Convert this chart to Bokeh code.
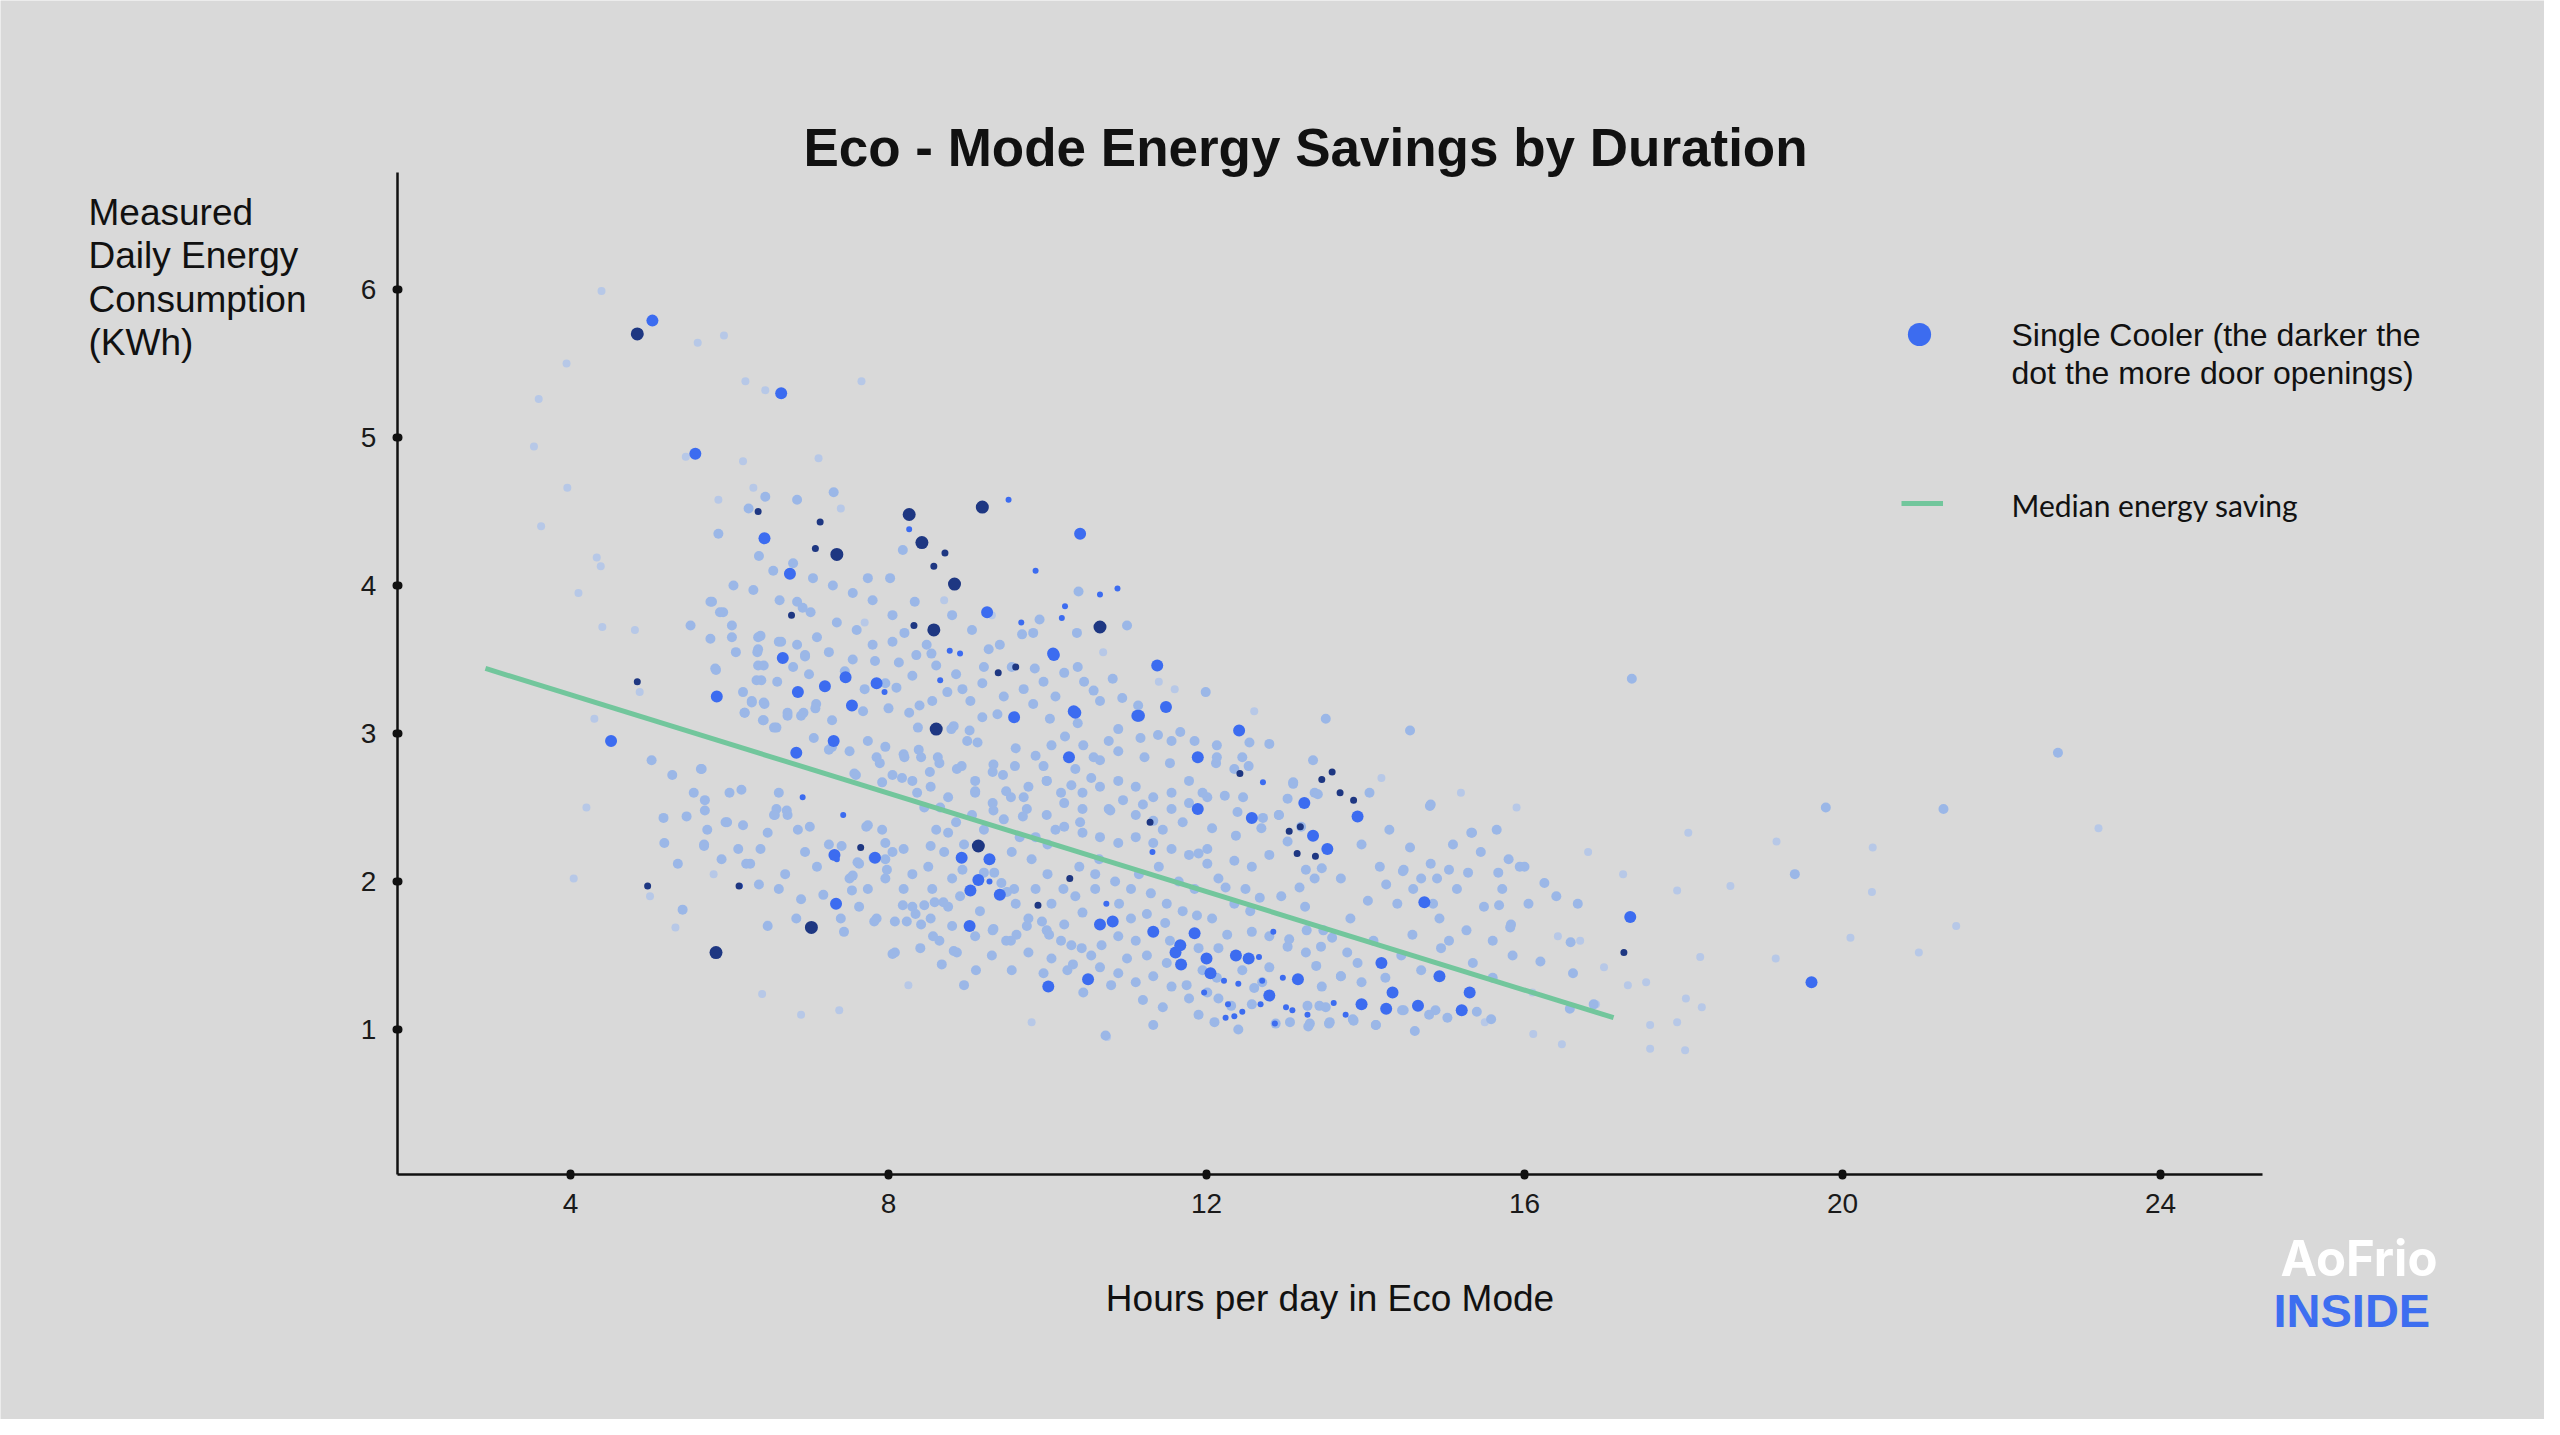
from bokeh.plotting import figure
from bokeh.models import Range1d, FixedTicker, Label, Legend, LegendItem
from bokeh.embed import file_html
from bokeh.resources import INLINE

BG = "#d9d9d9"
FONT = "Liberation Sans"

x_ticks = [4, 8, 12, 16, 20, 24]
y_ticks = [1, 2, 3, 4, 5, 6]
x_axis_span = (1.82, 25.28)
y_axis_span = (0.02, 6.79)

# median energy saving line (hours, kWh)
median_x = [2.93, 17.12]
median_y = [3.44, 1.08]

# coolers with many door openings (darkest)
dark_big = [(4.84, 5.70), (8.26, 4.48), (9.18, 4.53), (7.35, 4.21), (8.42, 4.29), (8.83, 4.01),
            (8.57, 3.70), (10.66, 3.72), (8.60, 3.03), (9.13, 2.24), (7.03, 1.69), (5.83, 1.52)]
dark_small = [(4.84, 3.35), (4.97, 1.97), (6.36, 4.50), (7.14, 4.43), (7.08, 4.25), (8.71, 4.22),
              (8.57, 4.13), (6.78, 3.80), (8.32, 3.73), (9.38, 3.41), (9.88, 1.84), (12.42, 2.73),
              (13.45, 2.69), (13.58, 2.74), (13.68, 2.60), (13.85, 2.55), (13.04, 2.34), (13.18, 2.37),
              (13.14, 2.19), (13.37, 2.17), (6.12, 1.97), (7.65, 2.23), (10.28, 2.02), (11.29, 2.40),
              (17.25, 1.52), (9.60, 3.45)]

# coolers with a moderate number of door openings
bright_big = [(5.03, 5.79), (6.65, 5.30), (5.57, 4.89), (10.41, 4.35), (6.44, 4.32), (6.76, 4.08),
              (9.24, 3.82), (11.38, 3.46), (6.67, 3.51), (7.46, 3.38), (7.20, 3.32), (6.86, 3.28),
              (5.84, 3.25), (7.54, 3.19), (7.85, 3.34), (10.08, 3.53), (9.58, 3.11), (10.33, 3.15),
              (11.13, 3.12), (11.49, 3.18), (10.27, 2.84), (11.89, 2.84), (12.41, 3.02), (6.84, 2.87),
              (7.31, 2.95), (12.57, 2.43), (13.23, 2.53), (13.34, 2.31), (13.52, 2.22), (13.90, 2.44),
              (11.89, 2.49), (7.32, 2.18), (7.34, 1.85), (7.83, 2.16), (8.92, 2.16), (9.27, 2.15),
              (9.13, 2.01), (9.03, 1.94), (9.40, 1.91), (9.02, 1.70), (10.66, 1.71), (10.82, 1.73),
              (11.33, 1.66), (11.85, 1.65), (11.61, 1.52), (11.68, 1.44), (12.00, 1.48), (12.37, 1.50),
              (12.53, 1.48), (13.15, 1.34), (12.79, 1.23), (10.51, 1.34), (10.01, 1.29), (13.95, 1.17),
              (14.26, 1.14), (14.66, 1.16), (15.21, 1.13), (15.31, 1.25), (14.93, 1.36), (14.34, 1.25),
              (14.20, 1.45), (14.74, 1.86), (17.33, 1.76), (19.61, 1.32), (4.51, 2.95), (12.05, 1.38),
              (11.67, 1.57), (10.35, 3.14), (11.15, 3.12), (10.07, 3.54)]
bright_small = [(9.51, 4.58), (8.26, 4.38), (9.85, 4.10), (9.67, 3.75), (10.18, 3.78), (10.22, 3.86),
                (10.66, 3.94), (10.88, 3.98), (8.77, 3.56), (8.90, 3.54), (7.95, 3.28), (8.65, 3.36),
                (12.35, 1.09), (12.27, 1.17), (12.70, 1.33), (13.00, 1.15), (10.74, 1.85), (9.27, 2.00),
                (12.71, 2.67), (12.84, 1.66), (12.24, 1.08), (12.45, 1.12), (12.68, 1.17), (12.86, 1.04),
                (13.08, 1.13), (13.27, 1.10), (11.97, 1.25), (12.22, 1.33), (12.40, 1.31), (12.96, 1.35),
                (12.66, 1.49), (6.13, 1.97), (6.92, 2.57), (7.43, 2.45), (7.35, 2.15), (11.32, 2.20),
                (13.60, 1.18), (13.75, 1.10)]

# coolers with few door openings (light)
light = [(5.02, 2.82), (5.28, 2.72), (5.65, 2.76), (5.17, 2.43), (5.46, 2.44), (5.18, 2.26), (5.35, 2.12),
         (5.68, 2.25), (5.97, 2.40), (5.41, 1.81), (6.26, 2.12), (6.39, 2.22), (5.72, 2.35), (6.85, 4.58),
         (7.31, 4.63), (6.45, 4.60), (6.24, 4.52), (5.86, 4.35), (6.37, 4.20), (7.74, 4.05), (8.02, 4.05),
         (8.18, 4.24), (6.05, 4.00), (6.30, 3.97), (5.78, 3.89), (5.92, 3.82), (6.63, 3.90), (6.85, 3.89),
         (7.02, 3.82), (6.92, 3.85), (8.33, 3.89), (9.90, 3.77), (9.68, 3.67), (9.82, 3.68), (10.37, 3.68),
         (11.00, 3.73), (10.39, 3.96), (6.39, 3.66), (6.65, 3.62), (6.36, 3.57), (6.95, 3.52), (6.36, 3.46),
         (6.08, 3.55), (6.40, 3.36), (5.82, 3.44), (5.51, 3.73), (5.76, 3.64), (6.03, 3.65),
         (6.28, 3.22), (6.44, 3.20), (6.19, 3.14), (6.42, 3.09), (6.59, 3.04), (6.73, 3.14), (6.93, 3.14),
         (7.09, 3.20), (7.29, 3.09), (7.68, 3.15), (7.96, 3.34), (8.10, 3.31), (7.83, 3.49), (8.13, 3.48),
         (8.35, 3.53), (8.48, 3.60), (8.54, 3.54), (8.60, 3.46), (8.30, 3.39), (9.26, 3.57), (9.18, 3.34),
         (8.93, 3.30), (8.74, 3.28), (9.03, 3.22), (8.55, 3.22), (8.39, 3.19), (8.26, 3.14), (8.00, 3.17),
         (8.37, 3.04), (8.82, 3.05), (8.99, 2.95), (9.18, 3.11), (9.37, 3.13), (9.82, 3.20), (9.84, 3.44),
         (10.21, 3.41), (10.38, 3.45), (10.46, 3.35), (10.38, 3.07), (10.03, 3.10), (10.22, 2.98),
         (10.58, 3.29), (10.66, 3.22), (10.82, 3.37), (10.94, 3.24), (11.14, 3.19), (10.89, 3.03),
         (10.77, 2.95), (10.89, 2.88), (11.17, 2.97), (11.39, 2.99), (11.56, 2.95), (11.67, 3.01),
         (11.99, 3.28), (10.58, 2.84), (10.35, 2.76), (10.66, 2.82), (11.22, 2.84), (11.54, 2.80),
         (12.13, 2.92), (12.54, 2.94), (12.79, 2.93), (12.12, 2.80), (12.35, 2.76), (11.78, 2.68),
         (11.56, 2.60), (11.33, 2.57), (11.11, 2.64), (10.89, 2.68), (10.66, 2.64), (10.44, 2.60),
         (9.99, 2.68), (9.76, 2.64), (9.59, 2.78), (9.31, 2.74), (9.09, 2.68), (8.86, 2.76), (8.64, 2.80),
         (8.41, 2.84), (8.19, 2.86), (7.96, 2.91), (7.74, 2.95), (7.51, 2.88), (7.29, 2.91), (7.06, 2.97),
         (7.85, 2.84), (7.57, 2.73), (8.05, 2.72), (8.30, 2.68), (8.53, 2.64), (8.75, 2.57), (9.09, 2.60),
         (9.31, 2.53), (9.54, 2.57), (9.74, 2.49), (9.99, 2.45), (10.21, 2.53), (10.44, 2.49), (10.77, 2.49),
         (11.11, 2.45), (11.33, 2.41), (11.56, 2.49), (11.78, 2.53), (12.01, 2.57), (12.23, 2.58),
         (12.46, 2.57), (13.09, 2.66), (13.36, 2.60), (13.19, 2.37), (13.02, 2.27), (12.91, 2.45),
         (12.79, 2.18), (12.57, 2.10), (12.35, 2.14), (12.01, 2.22), (11.78, 2.18), (11.56, 2.22),
         (11.33, 2.26), (11.11, 2.30), (10.89, 2.26), (10.66, 2.30), (10.44, 2.33), (10.21, 2.37),
         (14.81, 2.51), (15.34, 2.33), (15.65, 2.35), (14.56, 3.02), (13.50, 3.10), (17.35, 3.37),
         (6.59, 2.49), (6.73, 2.45), (7.01, 2.37), (7.72, 2.37), (7.63, 2.12), (7.96, 2.26), (8.19, 2.22),
         (7.51, 2.02), (7.74, 1.95), (7.96, 2.02), (8.19, 1.95), (8.30, 1.83), (8.53, 1.75), (8.75, 1.83),
         (9.58, 1.95), (9.76, 1.75), (9.99, 1.67), (10.21, 1.71), (10.44, 1.79), (10.89, 1.63), (11.11, 1.60),
         (11.54, 1.60), (12.79, 1.63), (13.02, 1.56), (12.57, 1.17), (12.01, 1.25), (11.78, 1.21),
         (11.56, 1.29), (11.33, 1.36), (11.11, 1.32), (10.89, 1.38), (10.66, 1.42), (10.32, 1.44),
         (9.76, 1.52), (9.54, 1.60), (9.31, 1.67), (9.09, 1.63), (8.86, 1.52), (8.64, 1.60), (8.41, 1.71),
         (8.08, 1.52), (7.85, 1.75), (7.63, 1.83), (7.40, 1.75), (7.18, 1.91), (6.90, 1.88), (6.84, 1.75),
         (6.62, 1.95), (10.73, 0.96), (11.33, 1.03), (12.87, 1.04), (13.05, 1.05), (13.30, 1.04),
         (13.55, 1.05), (13.85, 1.06), (14.13, 1.03), (13.42, 1.16), (13.69, 1.36), (14.48, 1.13),
         (14.88, 1.13), (14.59, 1.64), (14.93, 1.75), (15.27, 1.67), (15.60, 1.60), (15.83, 1.71),
         (15.49, 1.83), (15.72, 1.95), (15.15, 1.95), (14.70, 2.02), (14.26, 1.98), (14.03, 1.87),
         (13.81, 1.75), (13.47, 1.67), (13.24, 1.83), (13.69, 2.02), (14.18, 2.10), (14.48, 2.08),
         (14.90, 2.02), (15.29, 2.06), (15.67, 2.06), (15.94, 2.10), (16.25, 1.99), (16.67, 1.85),
         (16.20, 1.46), (16.61, 1.38), (16.58, 1.59), (16.87, 1.17), (16.57, 1.14), (15.82, 1.69),
         (15.68, 1.84), (14.46, 1.13), (14.62, 0.99), (14.80, 1.10), (15.03, 1.08), (15.40, 1.12),
         (15.58, 1.07), (19.40, 2.05), (19.79, 2.50), (21.27, 2.49), (22.71, 2.87),
         (12.13, 2.84), (12.45, 2.84), (12.53, 2.78), (13.09, 2.67), (13.34, 2.82), (13.40, 2.59),
         (12.91, 2.45), (12.71, 2.43), (13.02, 2.56), (12.39, 2.47), (12.07, 2.36), (12.37, 2.31),
         (12.69, 2.36), (13.25, 2.08), (13.45, 2.09), (13.36, 2.02), (13.17, 1.96), (12.94, 1.90),
         (12.67, 1.89), (12.49, 1.95), (12.24, 1.96), (12.01, 2.12), (11.90, 2.19), (14.47, 2.07),
         (14.56, 2.23), (14.82, 2.52), (14.82, 2.12), (15.05, 2.08), (15.33, 2.33), (15.80, 2.15),
         (16.00, 2.10), (12.57, 1.66), (13.04, 1.61), (13.25, 1.52), (13.38, 1.43), (13.45, 1.29),
         (13.27, 1.16), (13.50, 1.15), (13.54, 1.04), (13.28, 1.02), (13.84, 1.07), (14.13, 1.03),
         (13.95, 1.32), (13.69, 1.36), (13.77, 1.52), (13.44, 1.56), (13.58, 1.62), (13.26, 1.67),
         (12.70, 1.32), (12.15, 1.21), (12.31, 1.16), (12.13, 1.35), (11.90, 1.55), (11.88, 1.77),
         (12.07, 1.75), (12.26, 1.64), (12.79, 1.42),
         (5.76, 3.89), (5.88, 3.82), (6.03, 3.73), (6.36, 3.65), (6.62, 3.62), (6.85, 3.60), (6.35, 3.55),
         (6.95, 3.53), (5.83, 3.43), (6.43, 3.46), (6.34, 3.36), (6.17, 3.28), (6.28, 3.21), (6.43, 3.21),
         (6.19, 3.14), (6.43, 3.09), (6.56, 3.04), (6.73, 3.12), (6.90, 3.12), (7.08, 3.17), (7.25, 2.89),
         (7.59, 2.72), (7.89, 2.80), (7.92, 2.67), (8.17, 2.70), (8.20, 2.84), (8.38, 2.89), (8.36, 2.60),
         (8.52, 2.74), (8.62, 2.84), (8.79, 3.03), (9.02, 3.02), (9.12, 2.94), (8.92, 2.78), (9.32, 2.79),
         (9.44, 2.72), (9.32, 2.48), (9.09, 2.61), (9.48, 2.61), (9.70, 2.57), (9.69, 2.44), (9.99, 2.68),
         (10.17, 2.60), (10.41, 2.40), (10.79, 2.48), (5.64, 2.76), (6.15, 2.62), (6.62, 2.60), (5.69, 2.55),
         (5.69, 2.48), (5.95, 2.40), (6.17, 2.38), (6.48, 2.33), (6.72, 2.48), (6.57, 2.45), (6.86, 2.35),
         (5.68, 2.24), (6.11, 2.22), (6.21, 2.12), (6.37, 1.98), (6.48, 1.70), (7.44, 1.66), (7.74, 2.38),
         (7.92, 2.35), (7.81, 2.16), (7.96, 2.15), (7.98, 2.08), (8.05, 2.20), (7.61, 2.13), (7.55, 2.04),
         (7.54, 1.94), (7.82, 1.73), (8.08, 1.73), (8.05, 1.51), (8.40, 1.55), (8.67, 1.44), (8.82, 1.53),
         (8.56, 1.63), (8.80, 1.70), (8.18, 1.84), (8.34, 1.78), (8.23, 1.73), (8.45, 1.84), (8.58, 1.86),
         (8.69, 1.86), (8.80, 2.02), (8.93, 2.08), (9.20, 2.06), (9.33, 2.06), (9.42, 1.99), (9.49, 1.93),
         (9.32, 1.68), (9.48, 1.60), (9.61, 1.64), (9.74, 1.70), (9.93, 1.73), (10.02, 1.64), (10.17, 1.60),
         (10.30, 1.57), (10.43, 1.55), (10.55, 1.50), (10.68, 1.57), (10.40, 2.10), (10.60, 2.05),
         (10.85, 2.00), (11.05, 1.95), (11.30, 1.92), (11.50, 1.85), (11.70, 1.80), (11.05, 1.75),
         (11.25, 1.78), (11.48, 1.72), (10.20, 1.95), (10.00, 2.05), (9.80, 2.15), (9.65, 2.30),
         (10.00, 2.25), (10.65, 2.15),
         (6.55, 4.10), (6.80, 4.15), (7.05, 4.05), (7.30, 4.00), (7.55, 3.95), (7.80, 3.90), (8.05, 3.80),
         (7.60, 3.70), (7.35, 3.75), (7.10, 3.65), (7.25, 3.55), (7.55, 3.50), (7.80, 3.60), (8.05, 3.62),
         (8.20, 3.68), (7.45, 3.42), (7.70, 3.30), (6.60, 3.35), (6.80, 3.45), (7.00, 3.40), (8.80, 3.80),
         (9.05, 3.70), (9.40, 3.60), (9.55, 3.45), (9.70, 3.30), (9.95, 3.35), (10.10, 3.25), (9.45, 3.25),
         (9.20, 3.45), (8.85, 3.40), (9.60, 2.90), (9.85, 2.85), (10.05, 2.92), (9.95, 2.78), (10.45, 2.92),
         (11.85, 2.95), (11.95, 2.60), (11.70, 2.40), (11.45, 2.35), (11.20, 2.52), (10.95, 2.55),
         (10.55, 2.70), (10.30, 2.65), (10.10, 2.35), (9.85, 2.30), (9.55, 2.20), (9.45, 2.42), (9.20, 2.35),
         (9.05, 2.45), (8.85, 2.40), (8.60, 2.35), (8.45, 2.50), (8.65, 2.50), (8.95, 2.25), (8.70, 2.20),
         (8.50, 2.10), (8.30, 2.05), (8.55, 1.95), (8.90, 1.90), (9.15, 1.80), (9.60, 1.85), (9.85, 1.95),
         (10.05, 1.85), (10.35, 1.90), (10.60, 1.95), (10.90, 1.85), (11.15, 2.05), (11.40, 2.10),
         (11.65, 2.00), (11.85, 1.95), (12.15, 2.02), (12.35, 1.85), (12.55, 1.80), (12.15, 1.55),
         (12.45, 1.40), (12.60, 1.28), (11.95, 1.40), (11.75, 1.30), (11.50, 1.45), (11.25, 1.50),
         (11.00, 1.48), (10.80, 1.30), (10.45, 1.25), (10.25, 1.40), (10.05, 1.48), (9.95, 1.38),
         (9.55, 1.40), (9.30, 1.50), (9.10, 1.40), (8.95, 1.30), (11.20, 1.20), (11.45, 1.15), (11.90, 1.10),
         (12.10, 1.05), (12.40, 1.00), (14.40, 1.85), (14.60, 1.95), (14.85, 1.85), (15.05, 1.60),
         (15.35, 1.45), (15.60, 1.35), (15.85, 1.50), (14.95, 1.55), (14.70, 1.40), (14.45, 1.50),
         (14.10, 1.60), (13.90, 1.45), (14.25, 1.35), (15.10, 2.25), (15.45, 2.20), (16.05, 1.85),
         (16.40, 1.90), (13.95, 2.25), (14.30, 2.35), (14.05, 2.60),
         (6.56, 2.45), (7.41, 2.24), (8.75, 2.33), (8.53, 2.24), (6.00, 2.60), (5.55, 2.60), (5.90, 2.15),
         (6.70, 2.05), (7.10, 2.10), (7.25, 2.25), (6.95, 2.20)]

# faint coolers (fewest door openings)
pale = [(4.39, 5.99), (5.60, 5.64), (5.93, 5.69), (3.95, 5.50), (3.60, 5.26), (6.20, 5.38), (6.45, 5.32),
        (7.66, 5.38), (3.54, 4.94), (5.45, 4.87), (6.17, 4.84), (7.12, 4.86), (3.96, 4.66), (3.63, 4.40),
        (4.33, 4.19), (4.38, 4.13), (4.10, 3.95), (4.40, 3.72), (4.81, 3.70), (4.87, 3.28), (4.04, 2.02),
        (6.41, 1.24), (7.38, 1.13), (6.48, 1.71), (5.32, 1.69), (16.42, 1.63), (16.90, 1.17), (17.30, 1.30),
        (17.53, 1.32), (17.58, 1.03), (17.92, 1.05), (18.03, 1.21), (18.23, 1.15), (17.58, 0.87),
        (18.02, 0.86), (16.11, 0.97), (16.47, 0.90), (18.21, 1.49), (17.92, 1.94), (18.06, 2.33),
        (18.59, 1.97), (19.17, 2.27), (19.16, 1.48), (20.10, 1.62), (20.38, 2.23), (23.22, 2.36),
        (20.37, 1.93), (20.96, 1.52), (21.43, 1.70), (17.24, 2.05), (5.86, 4.58), (6.30, 4.66),
        (7.40, 4.52), (4.30, 3.10), (4.20, 2.50), (5.00, 1.90), (5.80, 2.05), (6.90, 1.10), (15.50, 1.05),
        (16.10, 1.25), (16.70, 1.60), (17.00, 1.42), (15.90, 2.50), (16.80, 2.20), (10.75, 0.95),
        (8.25, 1.30), (9.80, 1.05), (11.60, 3.30), (12.60, 3.15), (14.20, 2.70), (15.20, 2.60),
        (9.30, 3.80), (7.70, 3.75), (8.70, 3.90), (10.70, 3.55), (11.40, 3.35)]


def split(pts):
    return [a for a, _ in pts], [b for _, b in pts]


# the frame fills the whole canvas; axes are pinned with fixed_location
p = figure(width=2544, height=1419, x_range=Range1d(-3.17, 28.83), y_range=Range1d(-1.635, 7.953),
           output_backend="svg", toolbar_location=None, min_border=0,
           background_fill_color=BG, border_fill_color=BG, outline_line_color=None)
p.grid.visible = False

for ax in (p.xaxis, p.yaxis):
    ax.axis_line_width = 2.5
    ax.axis_line_color = "#111111"
    ax.major_tick_line_width = 8
    ax.major_tick_line_cap = "round"
    ax.major_tick_line_color = "#111111"
    ax.major_tick_in = 1
    ax.major_tick_out = 1
    ax.minor_tick_line_color = None
    ax.major_label_text_font = FONT
    ax.major_label_text_font_size = "28px"
    ax.major_label_text_color = "#1a1a1a"
p.xaxis.ticker = FixedTicker(ticks=x_ticks)
p.yaxis.ticker = FixedTicker(ticks=y_ticks)
p.xaxis.fixed_location = y_axis_span[0]
p.yaxis.fixed_location = x_axis_span[0]
p.xaxis.bounds = x_axis_span
p.yaxis.bounds = y_axis_span
p.xaxis.major_label_standoff = 18
p.yaxis.major_label_standoff = 20
p.xaxis.axis_label = "Hours per day in Eco Mode"
p.xaxis.axis_label_text_font = FONT
p.xaxis.axis_label_text_font_style = "normal"
p.xaxis.axis_label_text_font_size = "37px"
p.xaxis.axis_label_text_color = "#111111"
p.xaxis.axis_label_standoff = 62

x, y = split(pale)
p.scatter(x, y, size=8, fill_color="#b7c8e7", line_color=None)
x, y = split(light)
p.scatter(x, y, size=10, fill_color="#9bb7e7", line_color=None)
x, y = split(bright_small)
p.scatter(x, y, size=6, fill_color="#3c6cf0", line_color=None)
x, y = split(bright_big)
r_dot = p.scatter(x, y, size=12, fill_color="#3c6cf0", line_color=None)
x, y = split(dark_small)
p.scatter(x, y, size=7, fill_color="#1e3782", line_color=None)
x, y = split(dark_big)
p.scatter(x, y, size=13, fill_color="#1e3782", line_color=None)
r_line = p.line(median_x, median_y, line_color="#72c69c", line_width=5)

# legend keys (texts are set beside them as labels)
leg1 = Legend(items=[LegendItem(label=" ", renderers=[r_dot])], location=(1890, 1056),
              glyph_width=58, glyph_height=58, label_text_font_size="1px", label_height=1,
              padding=0, margin=0, spacing=0, background_fill_alpha=0, border_line_alpha=0)
leg2 = Legend(items=[LegendItem(label=" ", renderers=[r_line])], location=(1901, 906),
              glyph_width=42, glyph_height=20, label_text_font_size="1px", label_height=1,
              padding=0, margin=0, spacing=0, background_fill_alpha=0, border_line_alpha=0)
p.add_layout(leg1)
p.add_layout(leg2)

texts = [
    dict(x=1305, y=1243, text="Eco - Mode Energy Savings by Duration", text_align="center",
         text_font=FONT, text_font_style="bold", text_font_size="53px", text_color="#111111"),
    dict(x=88, y=1228, text="Measured\nDaily Energy\nConsumption\n(KWh)", text_baseline="top",
         text_font=FONT, text_font_size="37px", text_line_height=1.065, text_color="#111111"),
    dict(x=2011, y=1103, text="Single Cooler (the darker the\ndot the more door openings)",
         text_baseline="top", text_font=FONT, text_font_size="32px", text_line_height=1.075,
         text_color="#111111"),
    dict(x=2011, y=915, text="Median energy saving", text_baseline="middle",
         text_font="Lato", text_font_size="30px", text_color="#111111"),
    dict(x=2280, y=132, text="AoFrio", text_font="Inter", text_font_style="bold",
         text_font_size="49px", text_color="#ffffff"),
    dict(x=2273, y=83, text="INSIDE", text_font=FONT, text_font_style="bold",
         text_font_size="47px", text_color="#3d6ef0"),
]
for t in texts:
    p.add_layout(Label(x_units="screen", y_units="screen", **t))

open("out.html", "w").write(file_html(p, INLINE))
